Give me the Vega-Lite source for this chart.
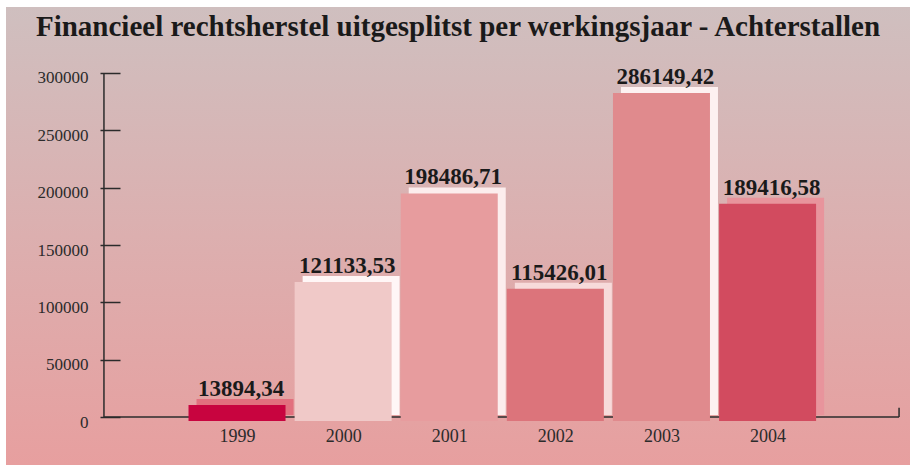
{
  "$schema": "https://vega.github.io/schema/vega-lite/v6.json",
  "width": 904,
  "height": 458,
  "autosize": "none",
  "padding": {"left": 6, "top": 7, "right": 0, "bottom": 0},
  "background": "white",
  "view": {
    "stroke": null,
    "fill": {
      "gradient": "linear", "x1": 0, "y1": 0, "x2": 0, "y2": 1,
      "stops": [
        {"offset": 0, "color": "#CFBFBF"},
        {"offset": 0.5, "color": "#DCAFAF"},
        {"offset": 1, "color": "#E79F9F"}
      ]
    }
  },
  "title": {
    "text": "Financieel rechtsherstel uitgesplitst per werkingsjaar - Achterstallen",
    "font": "Liberation Serif",
    "fontWeight": "bold",
    "fontSize": 29,
    "color": "#1a1a1a",
    "anchor": "middle",
    "frame": "group",
    "baseline": "alphabetic",
    "offset": -30,
    "dy": 28
  },
  "config": {
    "locale": {"number": {"decimal": ",", "thousands": ".", "grouping": [3], "currency": ["€", ""]}}
  },
  "data": {
    "values": [
      {"year": 1999, "value": 13894.34},
      {"year": 2000, "value": 121133.53},
      {"year": 2001, "value": 198486.71},
      {"year": 2002, "value": 115426.01},
      {"year": 2003, "value": 286149.42},
      {"year": 2004, "value": 189416.58}
    ]
  },
  "layer": [
    {
      "data": {"values": [{}]},
      "mark": {"type": "rule", "color": "#2b2b2b", "strokeWidth": 1.5},
      "encoding": {
        "x": {"datum": 1997.746, "type": "quantitative", "scale": {"domain": [1996.870, 2005.295], "nice": false, "zero": false}},
        "y": {"datum": 0, "type": "quantitative", "scale": {"domain": [-41860, 357558], "nice": false, "zero": false}},
        "y2": {"datum": 300000}
      }
    },
    {
      "data": {"values": [{}]},
      "mark": {"type": "rule", "color": "#2b2b2b", "strokeWidth": 1.5},
      "encoding": {
        "x": {"datum": 1997.746, "type": "quantitative"},
        "x2": {"datum": 2005.239},
        "y": {"datum": 0, "type": "quantitative"}
      }
    },
    {
      "data": {"values": [{}]},
      "mark": {"type": "rule", "color": "#2b2b2b", "strokeWidth": 1.5},
      "encoding": {
        "x": {"datum": 2005.239, "type": "quantitative"},
        "y": {"datum": 0, "type": "quantitative"},
        "y2": {"datum": 8000}
      }
    },
    {
      "mark": {"type": "bar", "width": 97, "xOffset": 8, "yOffset": -2, "y2Offset": -2},
      "encoding": {
        "x": {"field": "year", "type": "quantitative"},
        "y": {"field": "value", "type": "quantitative"},
        "y2": {"datum": 0},
        "fill": {
          "field": "year", "type": "nominal", "legend": null,
          "scale": {"domain": [1999, 2000, 2001, 2002, 2003, 2004],
                    "range": ["#E2707E", "#FFF6F6", "#FCEDED", "#F7DADA", "#FDF1F1", "#E8949C"]}
        }
      }
    },
    {
      "mark": {"type": "bar", "width": 97, "yOffset": 4, "y2Offset": 4},
      "encoding": {
        "x": {
          "field": "year", "type": "quantitative",
          "axis": {
            "values": [1999, 2000, 2001, 2002, 2003, 2004], "format": "d",
            "domain": false, "ticks": false, "grid": false, "offset": -48,
            "labelPadding": 10, "labelFont": "Liberation Serif", "labelFontSize": 18,
            "labelColor": "#2b2b2b", "title": null
          }
        },
        "y": {
          "field": "value", "type": "quantitative",
          "axis": {
            "values": [0, 50000, 100000, 150000, 200000, 250000, 300000], "format": "d",
            "domain": false, "grid": false, "tickSize": -20, "tickColor": "#2b2b2b", "tickWidth": 1.5,
            "offset": -94, "labelPadding": 32, "labelOffset": 5,
            "labelFont": "Liberation Serif", "labelFontSize": 17, "labelColor": "#2b2b2b", "title": null
          }
        },
        "y2": {"datum": 0},
        "color": {
          "field": "year", "type": "nominal", "legend": null,
          "scale": {"domain": [1999, 2000, 2001, 2002, 2003, 2004],
                    "range": ["#C8043F", "#F0C9C8", "#E79C9E", "#DC747B", "#E08A8D", "#D24B5F"]}
        }
      }
    },
    {
      "mark": {"type": "text", "font": "Liberation Serif", "fontWeight": "bold", "fontSize": 23,
               "color": "#1a1a1a", "baseline": "alphabetic", "align": "center", "dx": 4, "dy": -5},
      "encoding": {
        "x": {"field": "year", "type": "quantitative"},
        "y": {"field": "value", "type": "quantitative"},
        "text": {"field": "value", "type": "quantitative", "format": ".2f"}
      }
    }
  ]
}
